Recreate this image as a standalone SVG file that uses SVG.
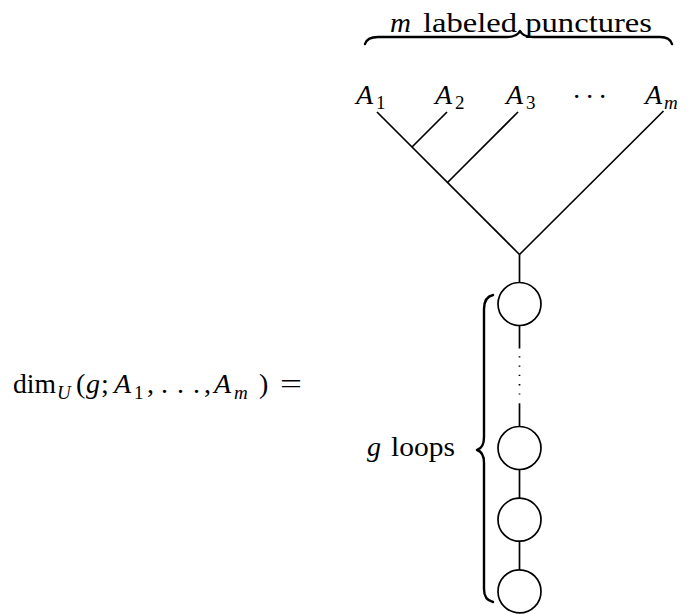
<svg xmlns="http://www.w3.org/2000/svg" width="695" height="614" viewBox="0 0 695 614">
<style>
text{font-family:"Liberation Serif","Times New Roman",serif;fill:#000;}
.rm{font-size:28px;}
.it{font-size:28px;font-style:italic;}
.sub{font-size:19px;}
.subit{font-size:19px;font-style:italic;}
.edge{stroke:#000;stroke-width:1.7;fill:none;stroke-linecap:butt;}
.loop{stroke:#000;stroke-width:1.7;fill:#fff;}
.brace{stroke:#000;stroke-width:2.4;fill:none;stroke-linecap:round;stroke-linejoin:round;}
</style>
<rect width="695" height="614" fill="#fff"/>

<g id="formula">
<text class="rm" x="13" y="393" textLength="43" lengthAdjust="spacingAndGlyphs">dim</text>
<text class="subit" x="57" y="399">U</text>
<text class="rm" x="76" y="393">(</text>
<text class="it" x="86" y="393">g</text>
<text class="rm" x="101" y="393">;</text>
<text class="it" x="114" y="393">A</text>
<text class="sub" x="134" y="399">1</text>
<text class="rm" x="147" y="393">,</text>
<text class="rm" x="161 177 193" y="393">...</text>
<text class="rm" x="204" y="393">,</text>
<text class="it" x="214" y="393">A</text>
<text class="subit" x="234" y="399">m</text>
<text class="rm" x="259" y="393">)</text>
<text class="rm" x="280" y="393" textLength="22" lengthAdjust="spacingAndGlyphs">=</text>
</g>

<g id="punctures-label">
<text class="it" x="390" y="32" textLength="21" lengthAdjust="spacingAndGlyphs">m</text>
<text class="rm" x="423" y="32" textLength="229" lengthAdjust="spacingAndGlyphs">labeled punctures</text>
<path class="brace" d="M365,44 Q367,37 378,37 L507,37 Q517,37 520,31 Q523,37 533,37 L660,37 Q670,37 672,44"/>
</g>

<g id="label-A1">
<text class="it" x="356" y="104">A</text>
<text class="sub" x="376" y="109">1</text>
</g>
<g id="label-A2">
<text class="it" x="435" y="104">A</text>
<text class="sub" x="455" y="109">2</text>
</g>
<g id="label-A3">
<text class="it" x="506" y="104">A</text>
<text class="sub" x="526" y="109">3</text>
</g>
<g id="label-dots">
<text class="rm" x="572 585 598" y="106">···</text>
</g>
<g id="label-Am">
<text class="it" x="645" y="104">A</text>
<text class="subit" x="664" y="109">m</text>
</g>

<g id="loops-label">
<text class="it" x="367" y="456">g</text>
<text class="rm" x="391" y="456" textLength="64" lengthAdjust="spacingAndGlyphs">loops</text>
<path class="brace" d="M493,295 Q484,297 484,309 L484,437 Q484,448 477,450 Q484,452 484,463 L484,589 Q484,600 493,602"/>
</g>

<g id="connectors">
<line class="edge" x1="377" y1="112" x2="519.5" y2="254.5"/>
<line class="edge" x1="447" y1="112" x2="412" y2="147"/>
<line class="edge" x1="518" y1="112" x2="447.5" y2="182.5"/>
<line class="edge" x1="663.5" y1="111" x2="519.5" y2="254.5"/>
<line class="edge" x1="519.5" y1="254.5" x2="519.5" y2="283"/>
<line class="edge" x1="519.5" y1="325" x2="519.5" y2="348.5"/>
<line class="edge" x1="519.5" y1="356.2" x2="519.5" y2="394.6" stroke-dasharray="1.3 8"/>
<line class="edge" x1="519.5" y1="403.3" x2="519.5" y2="427"/>
<line class="edge" x1="519.5" y1="469" x2="519.5" y2="498.5"/>
<line class="edge" x1="519.5" y1="541" x2="519.5" y2="570"/>
</g>

<g id="loop-1"><circle class="loop" cx="519.5" cy="304" r="21.5"/></g>
<g id="loop-2"><circle class="loop" cx="519.5" cy="448" r="21.5"/></g>
<g id="loop-3"><circle class="loop" cx="519.5" cy="519.7" r="21.5"/></g>
<g id="loop-4"><circle class="loop" cx="519.5" cy="591.4" r="21.5"/></g>
</svg>
